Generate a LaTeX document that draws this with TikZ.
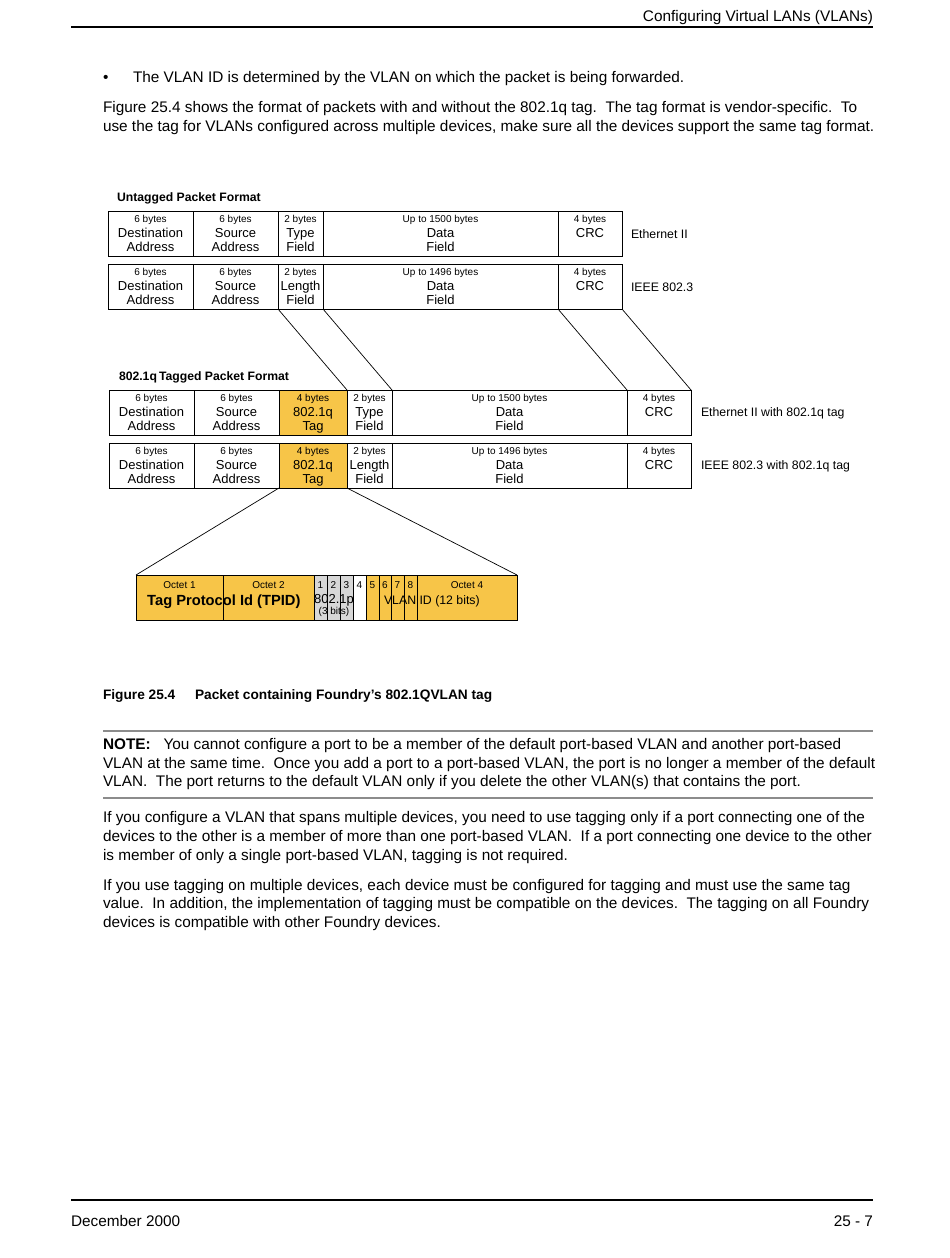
\documentclass[tikz,border=0pt]{standalone}
\usepackage{fontspec}
\setmainfont{Liberation Sans}
\usetikzlibrary{calc}
\definecolor{tagyel}{RGB}{247,197,72}
\definecolor{bitgray}{RGB}{215,215,215}
\definecolor{rulegray}{RGB}{140,140,140}
\tikzset{
  body/.style={inner sep=0pt, outer sep=0pt, font=\fontsize{15.35}{18}\selectfont, anchor=base west},
  cellbox/.style={draw=black, line width=0.8pt, inner sep=0pt, outer sep=0pt, minimum height=45pt},
  smalltxt/.style={inner sep=0pt, outer sep=0pt, font=\fontsize{10}{12}\selectfont, anchor=base},
  celltxt/.style={inner sep=0pt, outer sep=0pt, font=\fontsize{13}{15}\selectfont, anchor=base},
  sidelbl/.style={inner sep=0pt, outer sep=0pt, font=\fontsize{12.3}{15}\selectfont, anchor=base west},
  ttl/.style={inner sep=0pt, outer sep=0pt, font=\bfseries\fontsize{12.2}{15}\selectfont, anchor=base west},
  captxt/.style={inner sep=0pt, outer sep=0pt, font=\bfseries\fontsize{13.7}{15}\selectfont, anchor=base west},
  conn/.style={draw=black, line width=0.7pt},
}
\newcommand{\bodyline}[4]{\node[body] (#1) at (#2,#3) {#4};}
\newcommand{\pcell}[8]{%
  \node[cellbox, fill=#5, minimum width={#3-#2}] (#1) at ({(#2+#3)/2},{#4+22.5}) {};
  \node[smalltxt] (#1-s) at ({(#2+#3)/2},{#4+11.5}) {#6};
  \node[celltxt] (#1-a) at ({(#2+#3)/2},{#4+26.5}) {#7};
  \node[celltxt] (#1-b) at ({(#2+#3)/2},{#4+40.5}) {#8};}
\newcommand{\bcell}[5]{%
  \node[cellbox, fill=#4, minimum width={#3-#2}] (#1) at ({(#2+#3)/2},597.5) {};
  \node[smalltxt] (#1-s) at ({(#2+#3)/2},588.5) {#5};}
\begin{document}
\begin{tikzpicture}[x=1pt,y=-1pt]
\useasboundingbox (0,0) rectangle (950,1258);
% header
\node[body, anchor=base east] (hdr) at (873,21.5) {Configuring Virtual LANs (VLANs)};
\draw[line width=1.8pt] (71,27) -- (873,27);
% intro text
\node[body] (bul) at (103,82.5) {\textbullet};
\bodyline{l1}{133}{82.5}{The VLAN ID is determined by the VLAN on which the packet is being forwarded.}
\bodyline{l2}{103}{112.5}{Figure 25.4 shows the format of packets with and without the 802.1q tag.\ \ The tag format is vendor-specific.\ \ To}
\bodyline{l3}{103}{131.5}{use the tag for VLANs configured across multiple devices, make sure all the devices support the same tag format.}
% untagged
\node[ttl] (t1) at (117,201.5) {Untagged Packet Format};
\pcell{r1d}{108}{193}{211}{white}{6 bytes}{Destination}{Address}
\pcell{r1s}{193}{278}{211}{white}{6 bytes}{Source}{Address}
\pcell{r1t}{278}{323}{211}{white}{2 bytes}{Type}{Field}
\pcell{r1f}{323}{558}{211}{white}{Up to 1500 bytes}{Data}{Field}
\pcell{r1c}{558}{622}{211}{white}{4 bytes}{CRC}{}
\node[sidelbl] (r1l) at (631,238.5) {Ethernet II};
\pcell{r2d}{108}{193}{264}{white}{6 bytes}{Destination}{Address}
\pcell{r2s}{193}{278}{264}{white}{6 bytes}{Source}{Address}
\pcell{r2t}{278}{323}{264}{white}{2 bytes}{Length}{Field}
\pcell{r2f}{323}{558}{264}{white}{Up to 1496 bytes}{Data}{Field}
\pcell{r2c}{558}{622}{264}{white}{4 bytes}{CRC}{}
\node[sidelbl] (r2l) at (631,291.5) {IEEE 802.3};
% tagged
\node[ttl] (t2) at (119,380.5) {802.1q\,Tagged Packet Format};
\pcell{r3d}{109}{194}{390}{white}{6 bytes}{Destination}{Address}
\pcell{r3s}{194}{279}{390}{white}{6 bytes}{Source}{Address}
\pcell{r3g}{279}{347}{390}{tagyel}{4 bytes}{802.1q}{Tag}
\pcell{r3t}{347}{392}{390}{white}{2 bytes}{Type}{Field}
\pcell{r3f}{392}{627}{390}{white}{Up to 1500 bytes}{Data}{Field}
\pcell{r3c}{627}{691}{390}{white}{4 bytes}{CRC}{}
\node[sidelbl] (r3l) at (701,416.5) {Ethernet II with 802.1q tag};
\pcell{r4d}{109}{194}{443}{white}{6 bytes}{Destination}{Address}
\pcell{r4s}{194}{279}{443}{white}{6 bytes}{Source}{Address}
\pcell{r4g}{279}{347}{443}{tagyel}{4 bytes}{802.1q}{Tag}
\pcell{r4t}{347}{392}{443}{white}{2 bytes}{Length}{Field}
\pcell{r4f}{392}{627}{443}{white}{Up to 1496 bytes}{Data}{Field}
\pcell{r4c}{627}{691}{443}{white}{4 bytes}{CRC}{}
\node[sidelbl] (r4l) at (701,469.5) {IEEE 802.3 with 802.1q tag};
% connectors untagged -> tagged
\draw[conn] (r2t.south west) -- (r3t.north west);
\draw[conn] (r2t.south east) -- (r3t.north east);
\draw[conn] (r2c.south west) -- (r3c.north west);
\draw[conn] (r2c.south east) -- (r3c.north east);
% tag detail
\bcell{o1}{136}{223}{tagyel}{Octet 1}
\bcell{o2}{223}{314}{tagyel}{Octet 2}
\bcell{b1}{314}{327}{bitgray}{1}
\bcell{b2}{327}{340}{bitgray}{2}
\bcell{b3}{340}{353}{bitgray}{3}
\bcell{b4}{353}{366}{white}{4}
\bcell{b5}{366}{379}{tagyel}{5}
\bcell{b6}{379}{391}{tagyel}{6}
\bcell{b7}{391}{404}{tagyel}{7}
\bcell{b8}{404}{417}{tagyel}{8}
\bcell{o4}{417}{517}{tagyel}{Octet 4}
\node[inner sep=0pt, anchor=base west, font=\bfseries\fontsize{14.7}{16}\selectfont] (tpid) at (147,605) {Tag Protocol Id (TPID)};
\node[celltxt] (pri) at (334,603) {802.1p};
\node[smalltxt] (pri3) at (334,614) {(3 bits)};
\node[sidelbl] (vid) at (384,604) {VLAN ID (12 bits)};
\draw[conn] (r4g.south west) -- (o1.north west);
\draw[conn] (r4g.south east) -- (o4.north east);
% caption
\node[captxt] (cap1) at (103,699) {Figure 25.4};
\node[captxt] (cap2) at (195,699) {Packet containing Foundry’s 802.1QVLAN tag};
% note
\draw[rulegray, line width=1.2pt] (103,731) -- (873,731);
\bodyline{n1}{103}{749.5}{\textbf{NOTE:}\ \ \ You cannot configure a port to be a member of the default port-based VLAN and another port-based}
\bodyline{n2}{103}{768.5}{VLAN at the same time.\ \ Once you add a port to a port-based VLAN, the port is no longer a member of the default}
\bodyline{n3}{103}{786.5}{VLAN.\ \ The port returns to the default VLAN only if you delete the other VLAN(s) that contains the port.}
\draw[rulegray, line width=1.2pt] (103,798) -- (873,798);
% paragraphs
\bodyline{p1}{103}{822.5}{If you configure a VLAN that spans multiple devices, you need to use tagging only if a port connecting one of the}
\bodyline{p2}{103}{841.5}{devices to the other is a member of more than one port-based VLAN.\ \ If a port connecting one device to the other}
\bodyline{p3}{103}{860.5}{is member of only a single port-based VLAN, tagging is not required.}
\bodyline{q1}{103}{890.5}{If you use tagging on multiple devices, each device must be configured for tagging and must use the same tag}
\bodyline{q2}{103}{908.5}{value.\ \ In addition, the implementation of tagging must be compatible on the devices.\ \ The tagging on all Foundry}
\bodyline{q3}{103}{927.5}{devices is compatible with other Foundry devices.}
% footer
\draw[line width=1.8pt] (71,1200) -- (873,1200);
\bodyline{ft1}{71}{1226.5}{December 2000}
\node[body, anchor=base east] (ft2) at (873,1226.5) {25 - 7};
\end{tikzpicture}
\end{document}
